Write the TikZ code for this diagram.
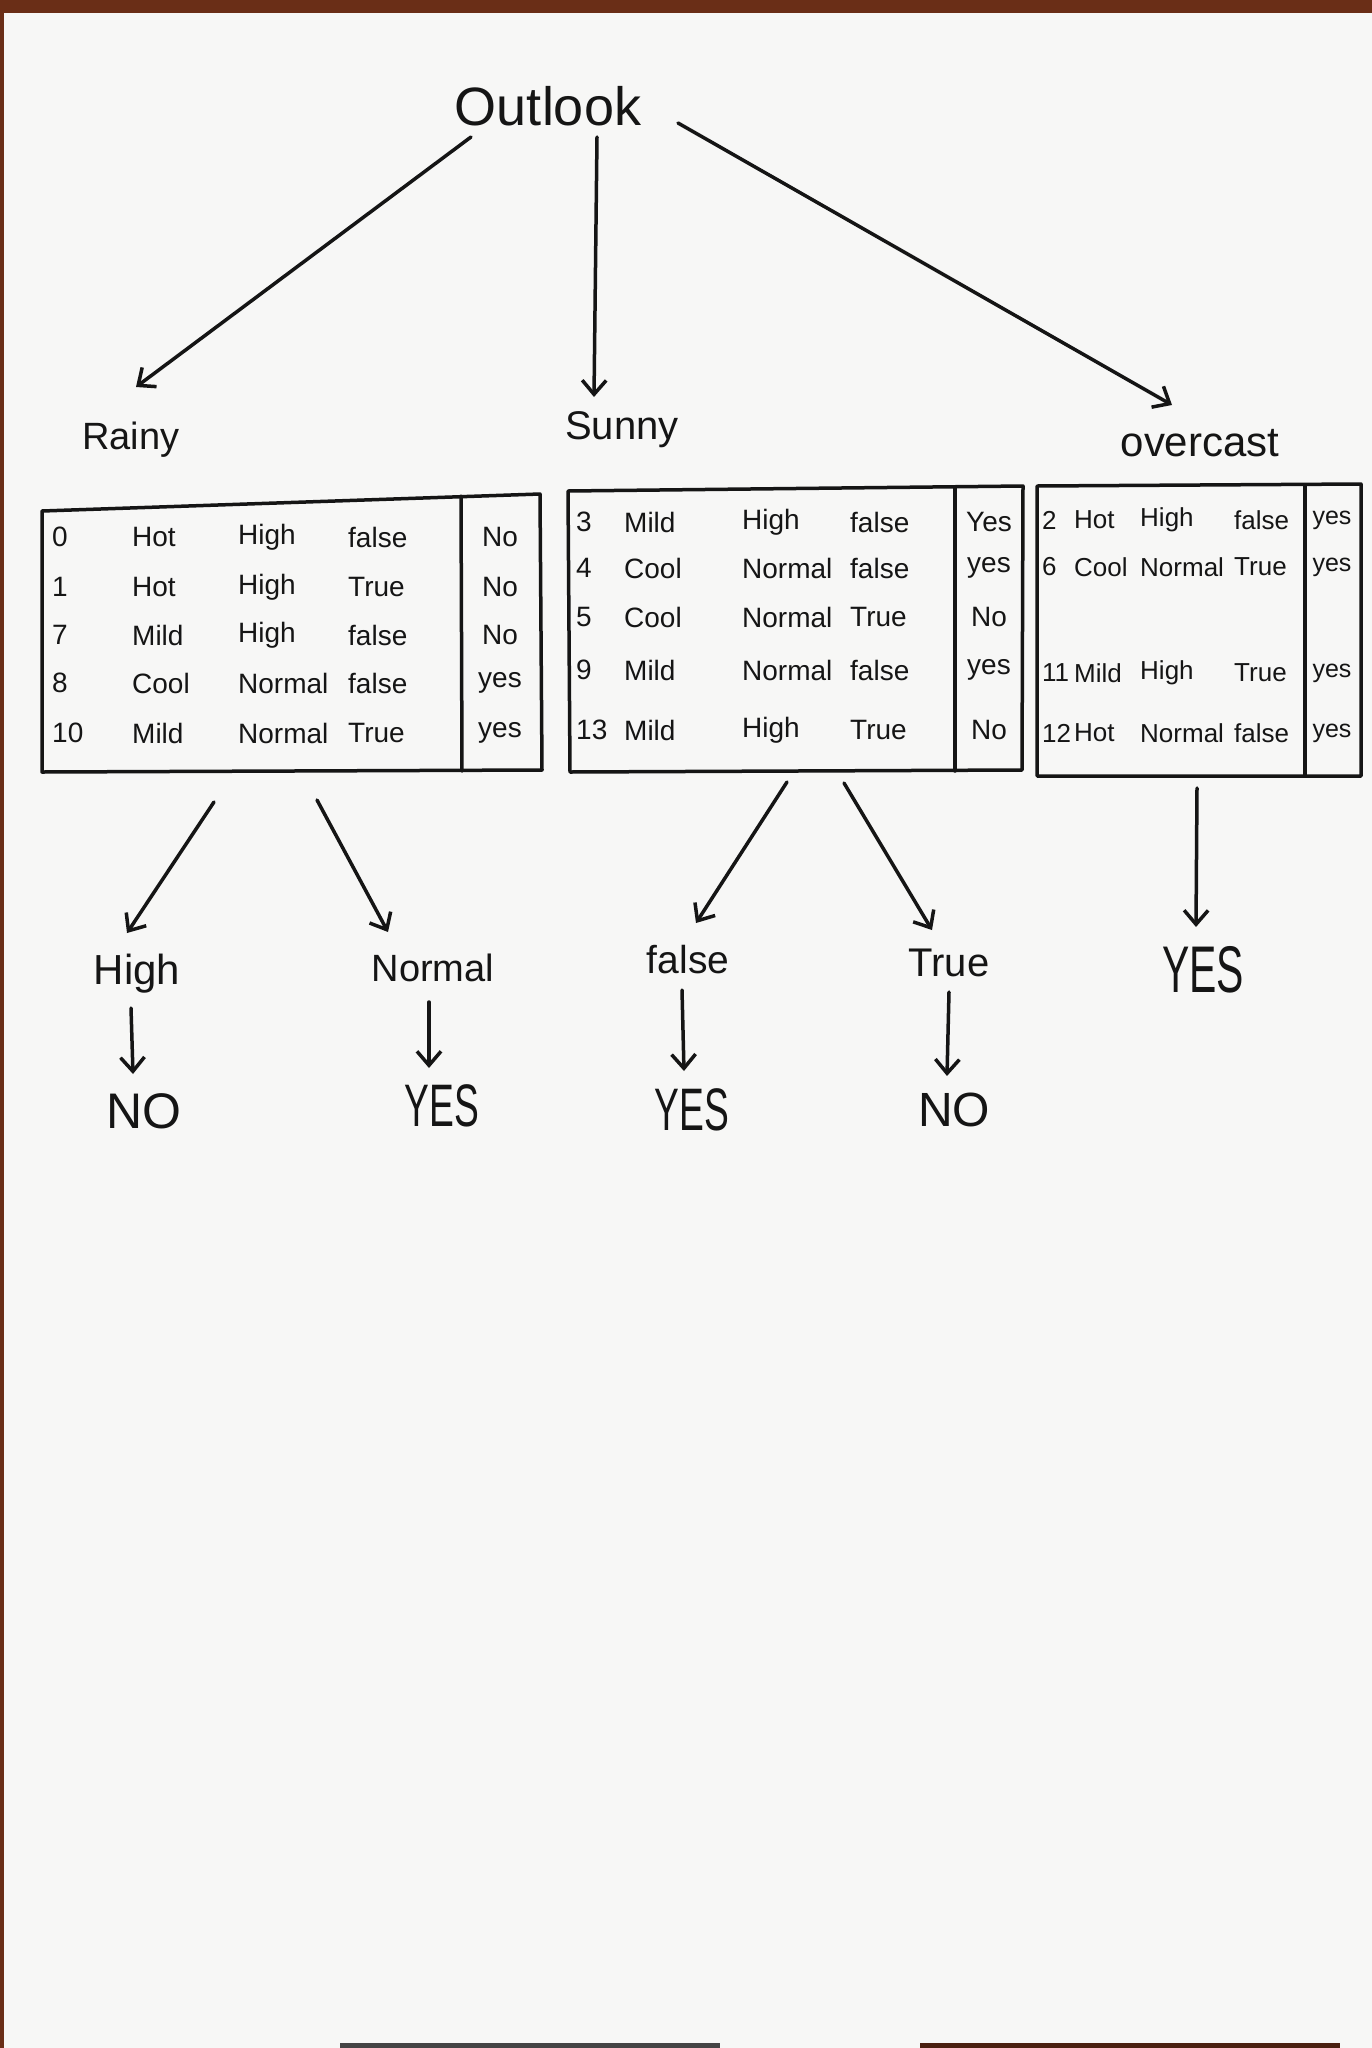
\documentclass[tikz,border=0pt]{standalone}
\usepackage{fontspec}
\usepackage{graphicx}
\setmainfont{Liberation Sans}
\usetikzlibrary{arrows.meta}
\definecolor{paper}{HTML}{F7F7F6}
\definecolor{wood}{HTML}{6A2E17}
\definecolor{ink}{HTML}{151515}
\tikzset{
  pen/.style={draw=ink, line width=3.5pt, line cap=round, line join=round},
  arr/.style={pen, -{Straight Barb[length=14pt,width=24pt,line width=3.5pt]}},
  cell/.style={text=ink, inner sep=0pt, font=\fontsize{28}{30}\selectfont},
  lcell/.style={cell, anchor=west},
  ocell/.style={cell, anchor=west, font=\fontsize{26}{28}\selectfont},
  ans/.style={cell, anchor=center},
  lab/.style={text=ink, inner sep=0pt, font=\fontsize{40}{42}\selectfont},
}
\newcommand{\tallcap}[1]{\scalebox{0.62}[1]{#1}}
\begin{document}
\begin{tikzpicture}[x=1pt,y=-1pt]
\useasboundingbox (0,0) rectangle (1372,2048);
\fill[paper] (0,0) rectangle (1372,2048);
\fill[wood] (0,0) rectangle (1372,13);
\fill[wood] (0,0) rectangle (4,2048);
\fill[ink!80] (340,2043) rectangle (720,2048);
\fill[wood!70!black] (920,2043) rectangle (1340,2048);

% ---------- top level ----------
\node[lab, font=\fontsize{54}{56}\selectfont] (outlook) at (548,106) {Outlook};
\node[lab, font=\fontsize{38}{40}\selectfont] (rainy) at (131,440) {Rainy};
\node[lab, font=\fontsize{40}{42}\selectfont] (sunny) at (622,430) {Sunny};
\node[lab, font=\fontsize{42}{44}\selectfont] (overcast) at (1200,443) {overcast};

\coordinate (o1) at (471,137); \coordinate (r1) at (136,387);
\coordinate (o2) at (597,137); \coordinate (s1) at (594,397);
\coordinate (o3) at (678,123); \coordinate (v1) at (1172,405);
\draw[arr] (o1) -- (r1);
\draw[arr] (o2) -- (s1);
\draw[arr] (o3) -- (v1);

% ---------- Rainy table ----------
\coordinate (rtl) at (42,511); \coordinate (rtr) at (540,494);
\coordinate (rbr) at (542,770); \coordinate (rbl) at (42,772);
\coordinate (rdt) at (461,496); \coordinate (rdb) at (462,771);
\draw[pen] (rtl) -- (rtr) -- (rbr) -- (rbl) -- cycle;
\draw[pen] (rdt) -- (rdb);
\foreach \n/\y/\a/\b/\c/\d/\e in {0/537/0/Hot/High/false/No, 1/587/1/Hot/High/True/No, 2/635/7/Mild/High/false/No, 3/683/8/Cool/Normal/false/yes, 4/733/10/Mild/Normal/True/yes}{
  \node[lcell] (ra\n) at (52,\y) {\a};
  \node[lcell] (rb\n) at (132,\y) {\b};
  \node[lcell] (rc\n) at (238,\y) {\c};
  \node[lcell] (rd\n) at (348,\y) {\d};
  \node[ans]   (re\n) at (500,\y) {\e};
}

% ---------- Sunny table ----------
\coordinate (stl) at (568,491); \coordinate (str) at (1023,486);
\coordinate (sbr) at (1022,770); \coordinate (sbl) at (570,772);
\coordinate (sdt) at (955,487); \coordinate (sdb) at (955,771);
\draw[pen] (stl) -- (str) -- (sbr) -- (sbl) -- cycle;
\draw[pen] (sdt) -- (sdb);
\foreach \n/\y/\a/\b/\c/\d/\e in {0/522/3/Mild/High/false/Yes, 1/568/4/Cool/Normal/false/yes, 2/617/5/Cool/Normal/True/No, 3/670/9/Mild/Normal/false/yes, 4/730/13/Mild/High/True/No}{
  \node[lcell] (sa\n) at (576,\y) {\a};
  \node[lcell] (sb\n) at (624,\y) {\b};
  \node[lcell] (sc\n) at (742,\y) {\c};
  \node[lcell] (sd\n) at (850,\y) {\d};
  \node[ans]   (se\n) at (989,\y) {\e};
}

% ---------- Overcast table ----------
\coordinate (otl) at (1037,486); \coordinate (otr) at (1361,484);
\coordinate (obr) at (1361,776); \coordinate (obl) at (1037,776);
\coordinate (odt) at (1305,485); \coordinate (odb) at (1305,776);
\draw[pen] (otl) -- (otr) -- (obr) -- (obl) -- cycle;
\draw[pen] (odt) -- (odb);
\foreach \n/\y/\a/\b/\c/\d/\e in {0/520/2/Hot/High/false/yes, 1/567/6/Cool/Normal/True/yes, 2/673/11/Mild/High/True/yes, 3/733/12/Hot/Normal/false/yes}{
  \node[ocell] (oa\n) at (1042,\y) {\a};
  \node[ocell] (ob\n) at (1074,\y) {\b};
  \node[ocell] (oc\n) at (1140,\y) {\c};
  \node[ocell] (od\n) at (1234,\y) {\d};
  \node[ans, font=\fontsize{25}{27}\selectfont] (oe\n) at (1332,\y) {\e};
}

% ---------- second level ----------
\node[lab, font=\fontsize{42}{44}\selectfont] (high) at (137,974) {High};
\node[lab, font=\fontsize{38}{40}\selectfont] (normal) at (433,968) {Normal};
\node[lab, font=\fontsize{39}{41}\selectfont] (false) at (688,960) {false};
\node[lab, font=\fontsize{40}{42}\selectfont] (true) at (949,963) {True};
\node[lab, font=\fontsize{66}{68}\selectfont] (yes0) at (1203,970) {\tallcap{YES}};

\coordinate (t1) at (214,802); \coordinate (h1) at (127,933);
\coordinate (t2) at (317,800); \coordinate (n1) at (388,932);
\coordinate (t3) at (787,782); \coordinate (f1) at (696,923);
\coordinate (t4) at (844,783); \coordinate (u1) at (932,930);
\coordinate (t5) at (1197,788); \coordinate (y1) at (1196,927);
\draw[arr] (t1) -- (h1);
\draw[arr] (t2) -- (n1);
\draw[arr] (t3) -- (f1);
\draw[arr] (t4) -- (u1);
\draw[arr] (t5) -- (y1);

% ---------- leaves ----------
\node[lab, font=\fontsize{50}{52}\selectfont] (no1) at (144,1111) {NO};
\node[lab, font=\fontsize{60}{62}\selectfont] (yes1) at (442,1106) {\tallcap{YES}};
\node[lab, font=\fontsize{60}{62}\selectfont] (yes2) at (692,1110) {\tallcap{YES}};
\node[lab, font=\fontsize{48}{50}\selectfont] (no2) at (954,1110) {NO};

\coordinate (h2) at (131,1008); \coordinate (h3) at (133,1074);
\coordinate (n2) at (429,1002); \coordinate (n3) at (429,1068);
\coordinate (f2) at (682,990);  \coordinate (f3) at (684,1071);
\coordinate (u2) at (949,992);  \coordinate (u3) at (947,1076);
\draw[arr] (h2) -- (h3);
\draw[arr] (n2) -- (n3);
\draw[arr] (f2) -- (f3);
\draw[arr] (u2) -- (u3);
\end{tikzpicture}
\end{document}
